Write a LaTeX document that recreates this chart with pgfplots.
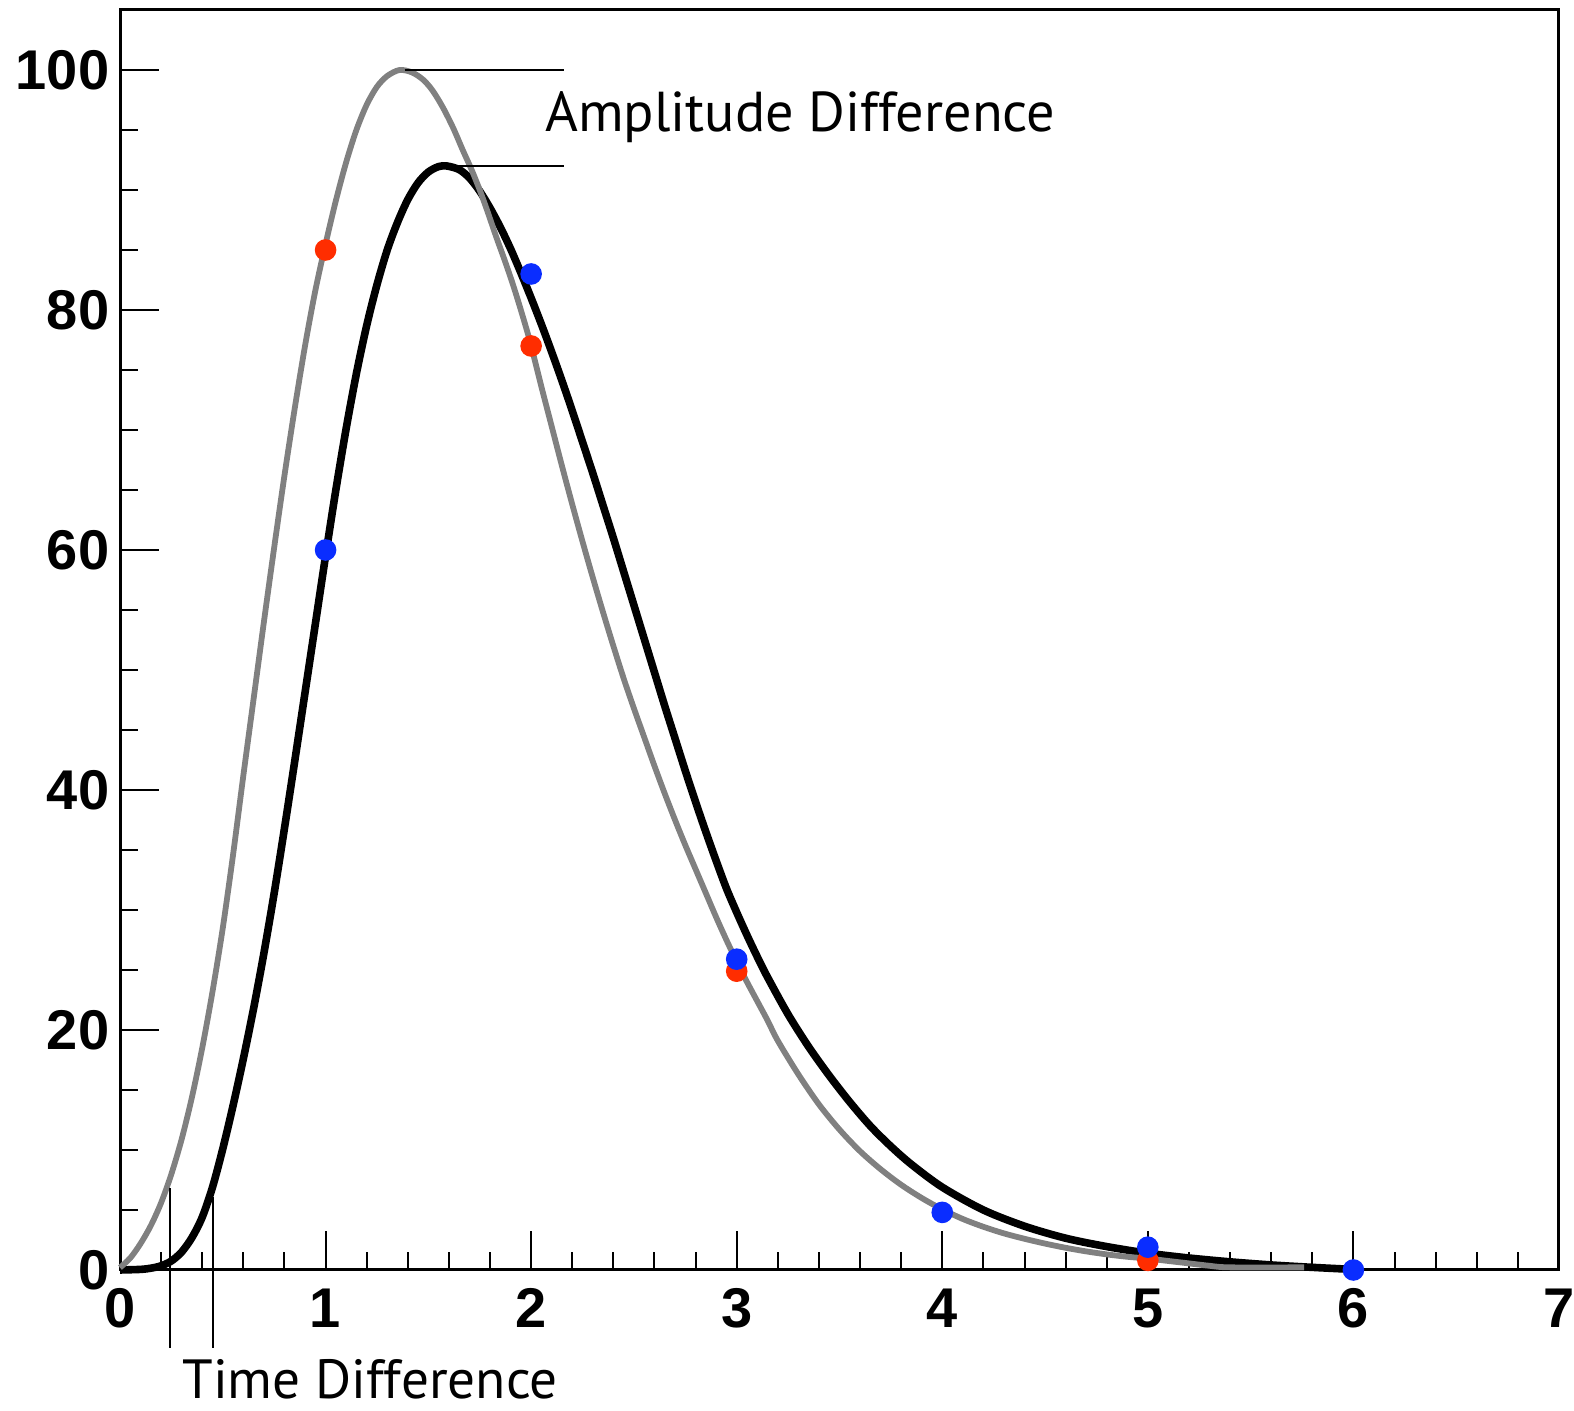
\documentclass[border=0pt]{standalone}
\usepackage{fontspec}
\setmainfont{Liberation Sans}
\newfontfamily\annfont{PT Sans}
\usepackage{pgfplots}
\pgfplotsset{compat=1.18}
\definecolor{dotred}{RGB}{255,45,0}
\definecolor{dotblue}{RGB}{10,45,255}
\definecolor{curvegray}{RGB}{128,128,128}
\begin{document}
\begin{tikzpicture}
\begin{axis}[
  scale only axis, width=359.75pt, height=315pt,
  xmin=0, xmax=7, ymin=0, ymax=105,
  xtick={0,1,2,3,4,5,6,7}, ytick={0,20,40,60,80,100},
  minor x tick num=4, minor y tick num=3,
  tick pos=left, tick align=inside,
  major tick length=9.8pt, minor tick length=4.6pt,
  axis line style={line width=0.75pt},
  every tick/.style={black, line width=0.5pt},
  ticklabel style={font=\fontsize{14}{14}\selectfont\bfseries},
  /pgf/number format/assume math mode=true,
  yticklabel style={inner xsep=2.5pt},
  xticklabel style={inner ysep=4.5pt},
  clip=false,
]
% black curve
\addplot[black, line width=1.9pt, smooth, tension=0.5] coordinates {
(0,0) (0.1,0.05) (0.15,0.15) (0.2,0.35) (0.25,0.75) (0.3,1.5) (0.35,2.7)
(0.4,4.4) (0.45,6.9) (0.5,10.1) (0.55,13.7) (0.6,17.6) (0.65,21.8) (0.7,26.4)
(0.75,31.4) (0.8,36.8) (0.85,42.4) (0.9,48.1) (0.95,53.8) (1.0,59.5) (1.05,65.0)
(1.1,70.1) (1.15,74.7) (1.2,78.7) (1.25,82.1) (1.3,85.0) (1.35,87.3) (1.4,89.2)
(1.45,90.6) (1.5,91.5) (1.55,91.95) (1.59,92.0) (1.65,91.7) (1.7,91.0) (1.75,89.9)
(1.8,88.5) (1.85,86.9) (1.9,85.1) (1.95,83.1) (2.0,81.0) (2.05,78.8) (2.1,76.5)
(2.15,74.1) (2.2,71.6) (2.25,69.0) (2.3,66.4) (2.35,63.7) (2.4,61.0) (2.45,58.2)
(2.5,55.4) (2.55,52.6) (2.6,49.8) (2.65,47.0) (2.7,44.3) (2.75,41.6) (2.8,39.0)
(2.85,36.5) (2.9,34.1) (2.95,31.8) (3.0,29.8) (3.05,27.9) (3.1,26.1) (3.15,24.4)
(3.25,21.3) (3.35,18.6) (3.45,16.2) (3.55,14.0) (3.65,12.0) (3.75,10.3) (3.85,8.8)
(4.0,6.9) (4.2,5.0) (4.4,3.65) (4.6,2.65) (4.8,1.95) (5.0,1.4) (5.2,1.0)
(5.4,0.68) (5.6,0.42) (5.8,0.22) (5.96,0.08)
};
% gray curve
\addplot[curvegray, line width=1.45pt, smooth, tension=0.5] coordinates {
(0,0.2) (0.05,1.0) (0.1,2.2) (0.15,3.7) (0.2,5.6) (0.25,8.0) (0.3,10.9)
(0.35,14.4) (0.4,18.5) (0.45,23.2) (0.5,28.5) (0.55,34.6) (0.6,41.2) (0.65,47.6)
(0.7,54.0) (0.75,60.2) (0.8,66.2) (0.85,71.8) (0.9,77.0) (0.95,81.6) (1.0,85.5)
(1.05,89.1) (1.1,92.3) (1.15,95.0) (1.2,97.1) (1.25,98.6) (1.3,99.5) (1.36,100.0)
(1.42,99.8) (1.474,99.2) (1.52,98.3) (1.57,96.9) (1.62,95.2) (1.668,93.3) (1.71,91.7)
(1.75,90.0) (1.79,88.1) (1.83,86.1) (1.87,84.2) (1.91,82.2) (1.95,80.0) (1.994,77.4)
(2.05,73.6) (2.1,70.3) (2.15,67.0) (2.2,63.8) (2.25,60.7) (2.3,57.7) (2.35,54.8)
(2.4,52.0) (2.45,49.3) (2.5,46.8) (2.55,44.4) (2.6,42.0) (2.65,39.7) (2.7,37.5)
(2.75,35.4) (2.8,33.4) (2.85,31.4) (2.9,29.4) (2.95,27.5) (3.0,25.7) (3.05,24.0)
(3.1,22.4) (3.15,20.8) (3.2,19.1) (3.3,16.3) (3.4,13.8) (3.5,11.7) (3.6,9.9)
(3.7,8.4) (3.8,7.1) (3.9,6.0) (4.0,5.05) (4.1,4.25) (4.2,3.6) (4.3,3.05)
(4.4,2.6) (4.5,2.2) (4.6,1.85) (4.7,1.55) (4.8,1.3) (4.9,1.1) (5.0,0.95)
(5.1,0.75) (5.2,0.55) (5.3,0.35) (5.4,0.22) (5.76,0.22)
};
% red points
\addplot[only marks, mark=*, mark size=2.5pt, color=dotred] coordinates {
(1,85) (2,77) (3,24.9) (5,0.8)
};
% blue points
\addplot[only marks, mark=*, mark size=2.5pt, color=dotblue] coordinates {
(1,60) (2,83) (3,25.9) (4,4.8) (5,1.9) (6,0)
};
% annotations
\draw[line width=0.6pt] (axis cs:1.385,100) -- (axis cs:2.162,100);
\draw[line width=0.6pt] (axis cs:1.57,92) -- (axis cs:2.162,92);
\node[anchor=base west, inner sep=0pt, font=\annfont\fontsize{14.05}{16}\selectfont] at (axis cs:2.065,94.9) {Amplitude Difference};
\draw[line width=0.5pt] (axis cs:0.243,6.8) -- (axis cs:0.243,-6.5);
\draw[line width=0.5pt] (axis cs:0.45,6.1) -- (axis cs:0.45,-6.5);
\node[anchor=base west, inner sep=0pt, font=\annfont\fontsize{13.8}{16}\selectfont] at (axis cs:0.30,-10.75) {Time Difference};
\end{axis}
\pgfresetboundingbox
\path[use as bounding box] (-30pt,-35.25pt) rectangle (363.5pt,317.5pt);
\end{tikzpicture}
\end{document}
